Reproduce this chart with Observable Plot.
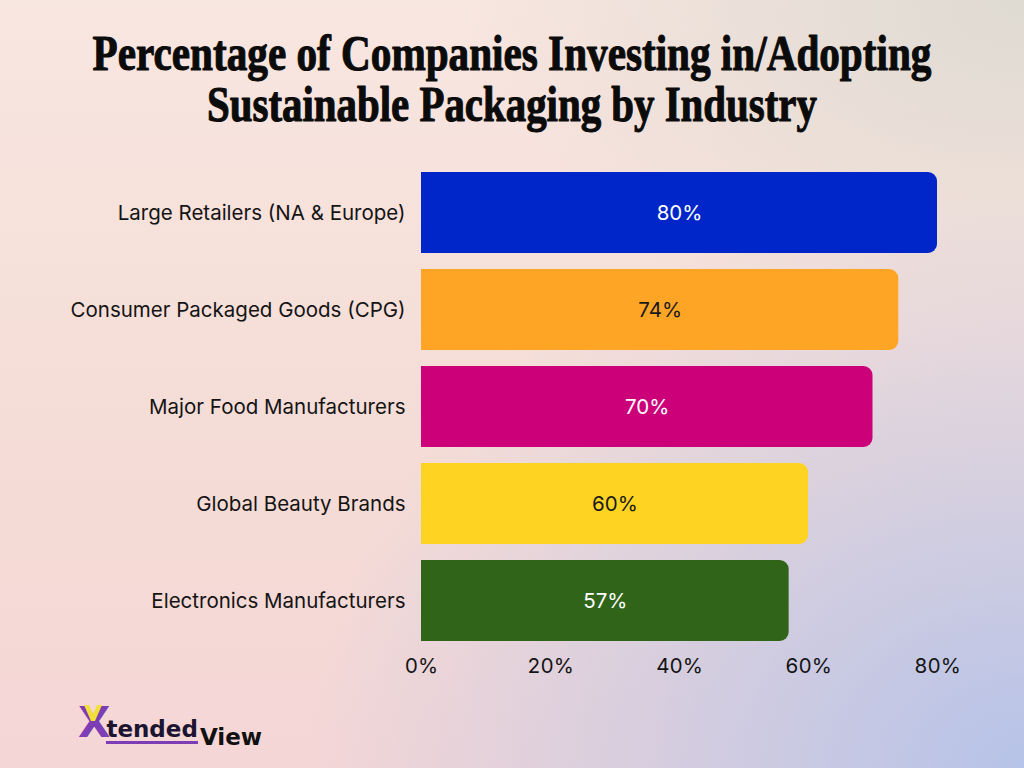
<!DOCTYPE html>
<html>
<head>
<meta charset="utf-8">
<script src="https://cdn.jsdelivr.net/npm/d3@7"></script>
<script src="https://cdn.jsdelivr.net/npm/@observablehq/plot@0.6"></script>
<style>
  html, body { margin: 0; padding: 0; }
  #page {
    position: relative; width: 1024px; height: 768px; overflow: hidden;
    background:
      radial-gradient(ellipse 70% 75% at 100% 100%, rgba(182,195,232,1) 0%, rgba(182,195,232,0.55) 45%, rgba(182,195,232,0) 100%),
      radial-gradient(ellipse 55% 45% at 100% 0%, rgba(222,218,210,1) 0%, rgba(222,218,210,0) 100%),
      linear-gradient(180deg, #f8e6e0 0%, #f5dcd6 60%, #f4d6d6 100%);
  }
  #title { position: absolute; left: 0; top: 0; overflow: visible; }
  #title text { font-family: "Liberation Serif", serif; font-weight: 700; font-size: 51px; fill: #0b0b0b; stroke: #0b0b0b; stroke-width: 1.1px; stroke-linejoin: round; }
  #chart { position: absolute; left: 0; top: 148px; }
  #logo { position: absolute; left: 78px; top: 702px; font-family: "DejaVu Sans", sans-serif; white-space: nowrap; }
  #logo .mark { position: relative; display: inline-block; }
  #logo .x { font-size: 42px; font-weight: 700; color: #7d3db5; line-height: 1; display: inline-block; }
  #logo svg.v { position: absolute; left: 6px; top: 3px; }
  #logo .tended { font-size: 23px; font-weight: 700; color: #1c1430; display: inline-block; border-bottom: 3px solid #7d3db5; line-height: 1.05; margin-left: -4px; }
  #logo .view { font-size: 23px; font-weight: 700; color: #111; display: inline-block; position: relative; top: 8px; margin-left: 2px; }
</style>
</head>
<body>
<div id="page">
  <svg id="title" width="1024" height="150"></svg>
  <div id="chart"></div>
  <div id="logo"><span class="mark"><span class="x">X</span><svg class="v" width="18" height="16" viewBox="0 0 18 16"><path d="M0 0 H5 L9 9 L13 0 H18 L11 16 H7 Z" fill="#f2e03a"/></svg></span><span class="tended">tended</span><span class="view">View</span></div>
</div>
<script>
// Share of companies investing in / adopting sustainable packaging, by industry
const industries = [
  "Large Retailers (NA & Europe)",
  "Consumer Packaged Goods (CPG)",
  "Major Food Manufacturers",
  "Global Beauty Brands",
  "Electronics Manufacturers"
];
const shares = [80, 74, 70, 60, 57];
const barColors = ["#0026c9", "#ffa526", "#cc0079", "#ffd322", "#2f6419"];
const labelColors = ["#ffffff", "#1a1a1a", "#ffffff", "#1a1a1a", "#ffffff"];
const xTicks = [0, 20, 40, 60, 80];
const titleLines = [
  "Percentage of Companies Investing in/Adopting",
  "Sustainable Packaging by Industry"
];

// Title: two centred lines, squeezed horizontally to a condensed look
const titleSvg = d3.select("#title");
const titleWidths = [839, 610];
const titleBaselines = [70, 121];
titleLines.forEach((line, i) => {
  const g = titleSvg.append("g");
  const t = g.append("text")
    .attr("x", 0)
    .attr("y", 0)
    .attr("text-anchor", "middle")
    .text(line);
  const natural = t.node().getComputedTextLength();
  const k = titleWidths[i] / natural;
  g.attr("transform", `translate(512,${titleBaselines[i]}) scale(${k},1)`);
});

const data = industries.map((industry, i) => ({
  industry,
  share: shares[i],
  fill: barColors[i],
  ink: labelColors[i]
}));

const chart = Plot.plot({
  width: 1024,
  height: 535,
  marginLeft: 421,
  marginRight: 87,
  marginTop: 22,
  marginBottom: 40,
  style: { background: "transparent", fontFamily: "Inter, sans-serif", fontSize: "20.5px", color: "#141414" },
  color: { type: "identity" },
  x: { domain: [0, 80], ticks: xTicks, tickFormat: d => d + "%", label: null, tickSize: 0, tickPadding: 15 },
  y: { domain: industries, paddingInner: 0.17, paddingOuter: 0, label: null, tickSize: 0, tickPadding: 16 },
  marks: [
    // rounded bar, then a square-cornered half to keep the left edge flat
    Plot.barX(data, { y: "industry", x: "share", fill: "fill", rx: 9 }),
    Plot.barX(data, { y: "industry", x1: 0, x2: d => d.share / 2, fill: "fill" }),
    Plot.text(data, { y: "industry", x: d => d.share / 2, text: d => d.share + "%", fill: "ink", fontSize: 20.5 })
  ]
});
document.getElementById("chart").appendChild(chart);
</script>
</body>
</html>
